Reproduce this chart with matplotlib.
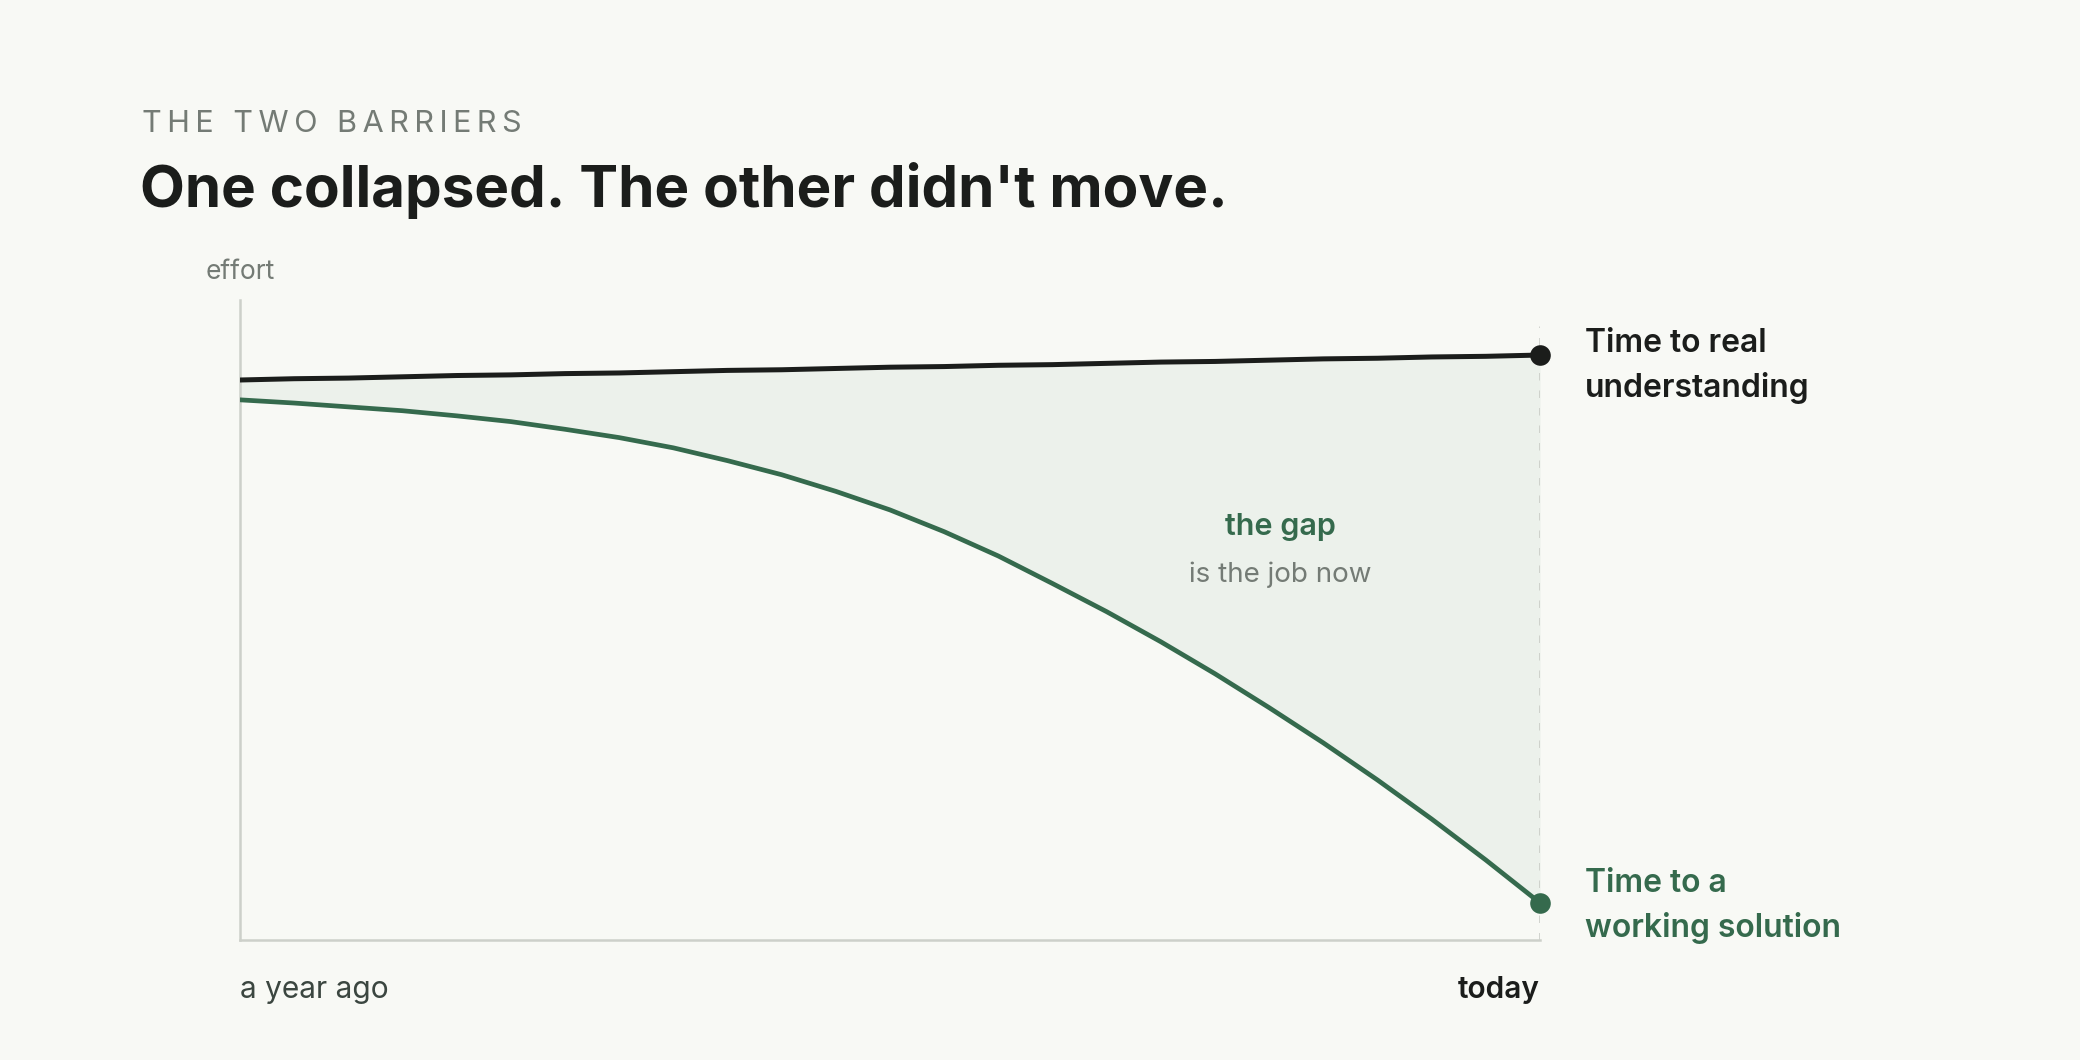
import matplotlib.pyplot as plt

plt.rcParams['font.family'] = ['Inter', 'DejaVu Sans']

# half-month steps from "a year ago" (0) to "today" (12)
months = [0, 0.5, 1, 1.5, 2, 2.5, 3, 3.5, 4, 4.5, 5, 5.5, 6,
          6.5, 7, 7.5, 8, 8.5, 9, 9.5, 10, 10.5, 11, 11.5, 12]
understanding = [87.5, 87.7, 87.8, 88.0, 88.2, 88.3, 88.5, 88.6, 88.8, 89.0, 89.1, 89.3, 89.5,
                 89.6, 89.8, 89.9, 90.1, 90.3, 90.4, 90.6, 90.8, 90.9, 91.1, 91.2, 91.4]
working_solution = [84.4, 83.9, 83.3, 82.7, 81.9, 81.0, 79.8, 78.5, 76.9, 74.9, 72.7, 70.1, 67.2,
                    63.8, 60.0, 55.7, 51.3, 46.6, 41.6, 36.3, 30.8, 25.0, 18.9, 12.5, 5.8]
x_tick_pos = [0, 12]
x_tick_labels = ['a year ago', 'today']

bg = '#f8f9f5'
green = '#356a4d'
dark = '#1b1d1b'
grey = '#747b75'

fig = plt.figure(figsize=(20.8, 10.6), dpi=100, facecolor=bg)
ax = fig.add_axes([240 / 2080, 120 / 1060, 1300 / 2080, 640 / 1060])
ax.set_facecolor(bg)
ax.set_xlim(0, 12)
ax.set_ylim(0, 100)

# the gap between the two lines
ax.fill_between(months, working_solution, understanding, color='#ecf1eb', lw=0, zorder=1)

# "today" marker line
ax.vlines(12, 0, 96, color='#c6c9c3', lw=1.8, linestyles=(0, (3, 4)), zorder=2)

ax.plot(months, understanding, color=dark, lw=3.6, solid_capstyle='round',
        solid_joinstyle='round', zorder=3)
ax.plot(months, working_solution, color=green, lw=3.4, solid_capstyle='round',
        solid_joinstyle='round', zorder=3)
ax.scatter([months[-1]], [understanding[-1]], s=220, color=dark, zorder=4, lw=0, clip_on=False)
ax.scatter([months[-1]], [working_solution[-1]], s=220, color=green, zorder=4, lw=0, clip_on=False)

for side in ['top', 'right']:
    ax.spines[side].set_visible(False)
for side in ['left', 'bottom']:
    ax.spines[side].set_color('#cdd0ca')
    ax.spines[side].set_linewidth(1.8)
ax.set_yticks([])
ax.set_xticks(x_tick_pos, labels=x_tick_labels)
ax.tick_params(axis='x', length=0, pad=42, labelsize=21.5)
lbls = ax.get_xticklabels()
lbls[0].set_ha('left')
lbls[0].set_color('#3b4640')
lbls[1].set_ha('right')
lbls[1].set_color(dark)
lbls[1].set_fontweight('semibold')
for lb in lbls:
    lb.set_va('baseline')

# y axis caption
ax.annotate('effort', xy=(0, 1), xycoords='axes fraction', xytext=(0, 15),
            textcoords='offset points', ha='center', va='baseline',
            fontsize=19, color=grey)

# end labels (baseline anchor = last line)
ax.annotate('Time to real\nunderstanding', xy=(months[-1], understanding[-1]),
            xytext=(32.5, -30.2), textcoords='offset points', ha='left', va='baseline',
            fontsize=23, fontweight='semibold', color=dark, linespacing=1.53)
ax.annotate('Time to a\nworking solution', xy=(months[-1], working_solution[-1]),
            xytext=(32.5, -24.5), textcoords='offset points', ha='left', va='baseline',
            fontsize=23, fontweight='semibold', color=green, linespacing=1.53)

# gap annotation
ax.text(9.6, 63.3, 'the gap', ha='center', va='baseline', fontsize=22,
        fontweight='semibold', color=green)
ax.text(9.6, 55.9, 'is the job now', ha='center', va='baseline', fontsize=20, color=grey)

# headings
fig.text(142 / 2080, 1 - 132 / 1060, '\u2009'.join('THE TWO BARRIERS'), ha='left',
         va='baseline', fontsize=22, color=grey)
fig.text(140 / 2080, 1 - 207 / 1060, "One collapsed. The other didn't move.", ha='left',
         va='baseline', fontsize=42, fontweight='bold', color=dark)

fig.savefig('out.png', dpi=100, facecolor=bg)
